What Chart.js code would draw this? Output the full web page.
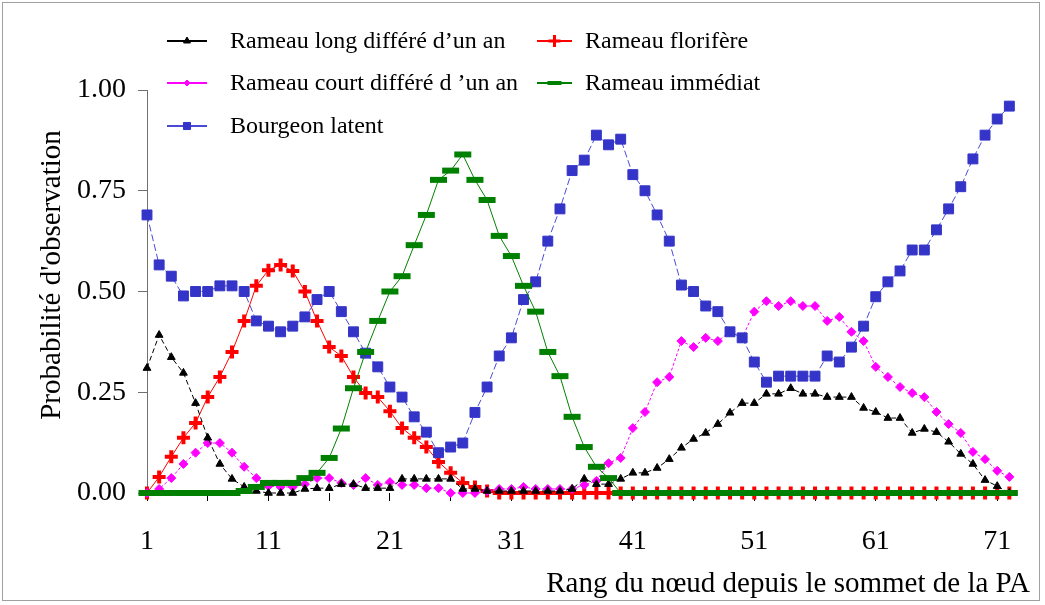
<!DOCTYPE html>
<html>
<head>
<meta charset="utf-8">
<script src="https://cdn.jsdelivr.net/npm/chart.js@4/dist/chart.umd.min.js"></script>
<style>
  html, body { margin: 0; padding: 0; background: #fff; }
  #wrap { position: relative; width: 1045px; height: 605px; }
</style>
</head>
<body>
<div id="wrap"><canvas id="chart"></canvas></div>
<script>
'use strict';

// rang du noeud (1 = sommet)
var ranks = [1, 2, 3, 4, 5, 6, 7, 8, 9, 10, 11, 12, 13, 14, 15, 16, 17, 18,
  19, 20, 21, 22, 23, 24, 25, 26, 27, 28, 29, 30, 31, 32, 33, 34, 35, 36,
  37, 38, 39, 40, 41, 42, 43, 44, 45, 46, 47, 48, 49, 50, 51, 52, 53, 54,
  55, 56, 57, 58, 59, 60, 61, 62, 63, 64, 65, 66, 67, 68, 69, 70, 71, 72];

var longDiff = [0.31, 0.392, 0.337, 0.298, 0.223, 0.137, 0.072, 0.035, 0.015, 0.005,
  0, 0, 0, 0.01, 0.012, 0.012, 0.022, 0.022, 0.012, 0.012,
  0.012, 0.035, 0.035, 0.035, 0.035, 0.035, 0.01, 0.01, 0.005, 0.005,
  0.005, 0.005, 0.005, 0.005, 0.005, 0.01, 0.035, 0.022, 0.022, 0.035,
  0.05, 0.05, 0.062, 0.084, 0.112, 0.134, 0.149, 0.171, 0.199, 0.223,
  0.223, 0.246, 0.246, 0.26, 0.246, 0.246, 0.238, 0.238, 0.238, 0.211,
  0.201, 0.186, 0.186, 0.149, 0.159, 0.151, 0.127, 0.097, 0.072, 0.032,
  0.017, 0];

var florifere = [0, 0.04, 0.09, 0.137, 0.174, 0.238, 0.288, 0.35, 0.427, 0.514,
  0.553, 0.566, 0.551, 0.5, 0.427, 0.362, 0.34, 0.288, 0.248, 0.238,
  0.203, 0.161, 0.137, 0.114, 0.077, 0.05, 0.025, 0.015, 0.005, 0,
  0, 0, 0, 0, 0, 0, 0, 0, 0, 0,
  0, 0, 0, 0, 0, 0, 0, 0, 0, 0,
  0, 0, 0, 0, 0, 0, 0, 0, 0, 0,
  0, 0, 0, 0, 0, 0, 0, 0, 0, 0,
  0, 0];

var courtDiff = [0, 0.01, 0.037, 0.072, 0.1, 0.124, 0.124, 0.1, 0.065, 0.037,
  0.017, 0.015, 0.015, 0.022, 0.037, 0.037, 0.025, 0.02, 0.037, 0.02,
  0.027, 0.02, 0.02, 0.012, 0.012, 0, 0, 0, 0.005, 0.01,
  0.01, 0.015, 0.01, 0.01, 0.01, 0.01, 0.02, 0.03, 0.074, 0.087,
  0.161, 0.201, 0.275, 0.288, 0.377, 0.362, 0.385, 0.377, 0.4, 0.385,
  0.45, 0.476, 0.464, 0.476, 0.464, 0.464, 0.427, 0.437, 0.4, 0.377,
  0.313, 0.288, 0.263, 0.248, 0.238, 0.201, 0.171, 0.149, 0.102, 0.084,
  0.055, 0.04];

var immediat = [0, 0, 0, 0, 0, 0, 0, 0, 0.005, 0.015,
  0.025, 0.025, 0.025, 0.037, 0.05, 0.087, 0.16, 0.26, 0.35, 0.427,
  0.5, 0.538, 0.615, 0.69, 0.777, 0.8, 0.84, 0.777, 0.727, 0.638,
  0.588, 0.514, 0.45, 0.35, 0.29, 0.189, 0.114, 0.065, 0.037, 0,
  0, 0, 0, 0, 0, 0, 0, 0, 0, 0,
  0, 0, 0, 0, 0, 0, 0, 0, 0, 0,
  0, 0, 0, 0, 0, 0, 0, 0, 0, 0,
  0, 0];

var latent = [0.69, 0.566, 0.538, 0.489, 0.5, 0.5, 0.514, 0.514, 0.5, 0.427,
  0.414, 0.4, 0.414, 0.437, 0.48, 0.5, 0.45, 0.4, 0.347, 0.313,
  0.263, 0.238, 0.189, 0.151, 0.1, 0.114, 0.124, 0.2, 0.263, 0.34,
  0.385, 0.48, 0.524, 0.625, 0.705, 0.8, 0.826, 0.888, 0.864, 0.878,
  0.79, 0.75, 0.69, 0.625, 0.516, 0.5, 0.464, 0.45, 0.4, 0.385,
  0.325, 0.275, 0.29, 0.29, 0.29, 0.29, 0.34, 0.325, 0.362, 0.414,
  0.487, 0.524, 0.551, 0.603, 0.603, 0.653, 0.705, 0.76, 0.829, 0.888,
  0.928, 0.96];

var xTickMarks = [1, 6, 11, 16, 21, 26, 31, 36, 41, 46, 51, 56, 61, 66, 71];
var xTickLabels = [1, 11, 21, 31, 41, 51, 61, 71];
var yTicks = [0, 0.25, 0.5, 0.75, 1];

var serif = "'Liberation Serif', 'Times New Roman', serif";

function series(label, data, color, style, radius, bw, dash, order) {
  return {
    label: label,
    data: data,
    borderColor: color,
    backgroundColor: color,
    borderWidth: 1,
    borderDash: dash,
    pointStyle: style,
    pointRadius: radius,
    pointBorderWidth: bw,
    pointBackgroundColor: color,
    pointBorderColor: color,
    pointHoverRadius: radius,
    tension: 0,
    clip: 12,
    order: order
  };
}

var datasets = [
  series('Rameau long différé d\u2019un an', longDiff, '#000000', 'triangle', 4.5, 1, [5, 3], 2),
  series('Rameau florifère', florifere, '#ff0000', 'cross', 6.5, 4, [], 4),
  series('Rameau court différé d \u2019un an', courtDiff, '#ff00ff', 'rectRot', 4.5, 1, [3, 2], 3),
  series('Rameau immédiat', immediat, '#008000', 'line', 8.5, 6, [], 0),
  series('Bourgeon latent', latent, '#3434c8', 'rect', 7, 1, [7, 3], 1)
];
datasets[4].borderColor = '#4a4ad8';

// legend drawn by hand: two columns, overlapping the top of the plot
var legendSpots = [
  { ds: 0, x: 167, y: 41, marker: { r: 4, bw: 1 } },
  { ds: 1, x: 537, y: 41, marker: { r: 6, bw: 3 } },
  { ds: 2, x: 167, y: 83, marker: { r: 3, bw: 1 } },
  { ds: 3, x: 537, y: 83, marker: { r: 7, bw: 4 } },
  { ds: 4, x: 167, y: 126, marker: { r: 5, bw: 1 } }
];

var decor = {
  id: 'decor',
  afterDraw: function(chart) {
    var ctx = chart.ctx;
    ctx.save();
    // outer frame
    ctx.strokeStyle = '#a0a0a0';
    ctx.lineWidth = 1;
    ctx.strokeRect(2.5, 2.5, 1037, 598);

    // y axis title, sits a bit above the plot centre
    ctx.save();
    ctx.translate(52, 275);
    ctx.rotate(-Math.PI / 2);
    ctx.font = '29px ' + serif;
    ctx.fillStyle = '#000';
    ctx.textAlign = 'center';
    ctx.textBaseline = 'middle';
    ctx.fillText('Probabilité d\'observation', 0, 0);
    ctx.restore();

    ctx.font = '24px ' + serif;
    ctx.textBaseline = 'middle';
    ctx.textAlign = 'left';
    legendSpots.forEach(function(s) {
      var d = chart.data.datasets[s.ds];
      var w = s.ds === 3 ? 35 : (s.ds === 1 ? 35 : 40);
      ctx.strokeStyle = d.borderColor;
      ctx.fillStyle = d.pointBackgroundColor;
      ctx.lineWidth = 2;
      ctx.setLineDash([]);
      ctx.beginPath();
      ctx.moveTo(s.x, s.y);
      ctx.lineTo(s.x + w, s.y);
      ctx.stroke();
      ctx.strokeStyle = d.pointBorderColor;
      ctx.lineWidth = s.marker.bw;
      Chart.helpers.drawPoint(ctx, {
        pointStyle: d.pointStyle,
        radius: s.marker.r,
        borderWidth: s.marker.bw,
        rotation: 0
      }, s.x + w / 2, s.y);
      ctx.fillStyle = '#000';
      var tx = s.ds === 1 || s.ds === 3 ? 585 : 230;
      ctx.fillText(d.label, tx, s.y + 1);
    });
    ctx.restore();
  }
};

var ctx = document.getElementById('chart').getContext('2d');
var myChart = new Chart(ctx, {
  type: 'line',
  data: {
    labels: ranks,
    datasets: datasets
  },
  plugins: [decor],
  options: {
    responsive: true,
    maintainAspectRatio: false,
    animation: false,
    layout: { padding: { top: 90, right: 15, left: 0, bottom: 0 } },
    plugins: {
      legend: { display: false },
      tooltip: { enabled: false }
    },
    scales: {
      x: {
        type: 'linear',
        min: 1,
        max: 73.7,
        afterFit: function(scale) { scale.height = 112; },
        afterBuildTicks: function(scale) {
          scale.ticks = xTickMarks.map(function(v) { return { value: v }; });
        },
        border: { display: false },
        grid: {
          drawOnChartArea: false,
          color: '#000',
          tickLength: 8
        },
        ticks: {
          autoSkip: false,
          maxRotation: 0,
          padding: 24,
          color: '#000',
          font: { family: serif, size: 28 },
          callback: function(v) {
            return xTickLabels.indexOf(v) >= 0 ? String(v) : '';
          }
        },
        title: {
          display: true,
          text: 'Rang du nœud depuis le sommet de la PA',
          align: 'end',
          color: '#000',
          font: { family: serif, size: 29 },
          padding: { top: 0, bottom: 3 }
        }
      },
      y: {
        min: 0,
        max: 1,
        afterFit: function(scale) { scale.width = 147; },
        afterBuildTicks: function(scale) {
          scale.ticks = yTicks.map(function(v) { return { value: v }; });
        },
        border: { display: true, color: '#707070', width: 1 },
        grid: {
          drawOnChartArea: false,
          color: '#707070',
          tickLength: 9
        },
        ticks: {
          padding: 12,
          color: '#000',
          font: { family: serif, size: 28 },
          callback: function(v) { return v.toFixed(2); }
        },
        title: { display: false }
      }
    }
  }
});
</script>
</body>
</html>
